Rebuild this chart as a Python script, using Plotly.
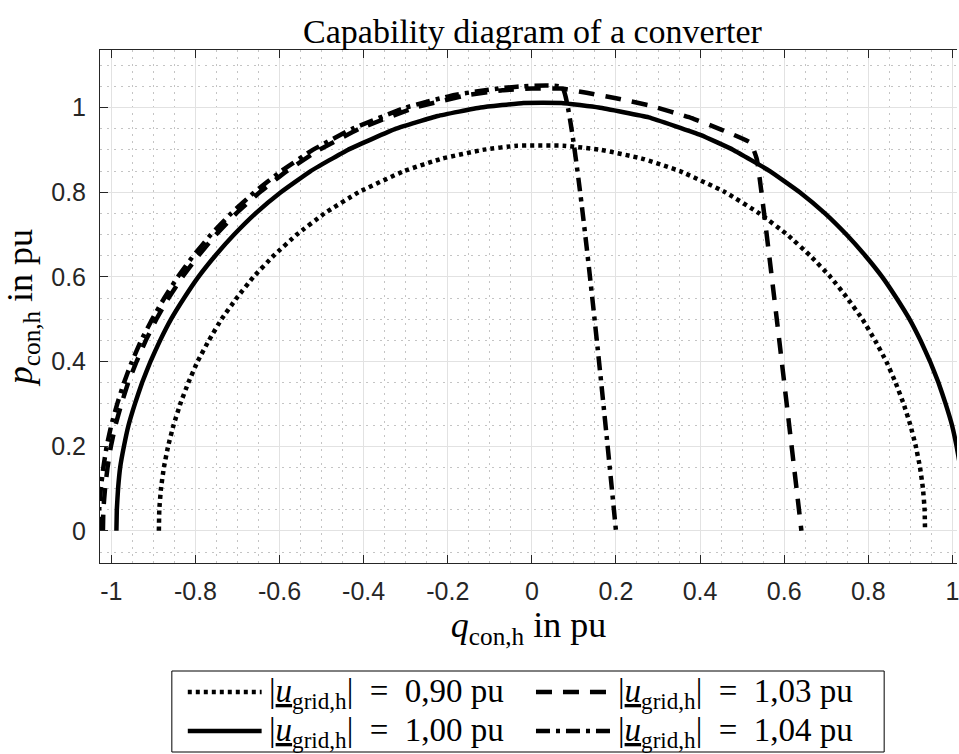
import plotly.graph_objects as go

# ---------------- data ----------------
DOT_Q = [-0.887, -0.886, -0.882, -0.875, -0.865, -0.852, -0.836, -0.817, -0.795, -0.768,
         -0.738, -0.702, -0.662, -0.614, -0.559, -0.493, -0.412, -0.304, -0.212, -0.117,
         -0.035, 0.075, 0.165, 0.260, 0.352, 0.460, 0.541, 0.607, 0.662, 0.710, 0.750,
         0.786, 0.816, 0.843, 0.865, 0.884, 0.900, 0.913, 0.923, 0.930, 0.934, 0.935]
DOT_P = [0.0, 0.05, 0.10, 0.15, 0.20, 0.25, 0.30, 0.35, 0.40, 0.45,
         0.50, 0.55, 0.60, 0.65, 0.70, 0.75, 0.80, 0.85, 0.88, 0.90,
         0.91, 0.91, 0.90, 0.88, 0.85, 0.80, 0.75, 0.70, 0.65, 0.60, 0.55,
         0.50, 0.45, 0.40, 0.35, 0.30, 0.25, 0.20, 0.15, 0.10, 0.05, 0.0]

SOLID_Q = [-0.988, -0.987, -0.984, -0.979, -0.970, -0.959, -0.944, -0.927, -0.907, -0.884,
           -0.858, -0.827, -0.793, -0.753, -0.708, -0.657, -0.597, -0.526, -0.438, -0.323,
           -0.224, -0.122, -0.02, 0.07, 0.159, 0.278, 0.402, 0.479, 0.566, 0.637, 0.697,
           0.748, 0.793, 0.833, 0.867, 0.898, 0.924, 0.947, 0.967, 0.984, 0.999, 1.010,
           1.019, 1.025, 1.030]
SOLID_P = [0.0, 0.05, 0.10, 0.15, 0.20, 0.25, 0.30, 0.35, 0.40, 0.45,
           0.50, 0.55, 0.60, 0.65, 0.70, 0.75, 0.80, 0.85, 0.90, 0.95,
           0.98, 1.0, 1.011, 1.011, 1.0, 0.977, 0.935, 0.90, 0.85, 0.80, 0.75,
           0.70, 0.65, 0.60, 0.55, 0.50, 0.45, 0.40, 0.35, 0.30, 0.25, 0.20,
           0.15, 0.10, 0.0]

DASH_Q = [-1.020, -1.019, -1.015, -1.009, -1.001, -0.990, -0.976, -0.960, -0.940, -0.918,
          -0.893, -0.864, -0.831, -0.793, -0.751, -0.703, -0.647, -0.583, -0.506, -0.410,
          -0.278, -0.151, -0.07, 0.0, 0.07, 0.13, 0.20, 0.28, 0.38, 0.45, 0.52, 0.535, 0.641]
DASH_P = [0.0, 0.05, 0.10, 0.15, 0.20, 0.25, 0.30, 0.35, 0.40, 0.45,
          0.50, 0.55, 0.60, 0.65, 0.70, 0.75, 0.80, 0.85, 0.90, 0.95,
          1.0, 1.03, 1.041, 1.045, 1.045, 1.035, 1.022, 1.005, 0.975, 0.948, 0.917, 0.878, 0.0]

DASHDOT_Q = [-1.030, -1.029, -1.025, -1.019, -1.011, -1.000, -0.986, -0.970, -0.951, -0.929,
             -0.903, -0.874, -0.842, -0.805, -0.763, -0.715, -0.660, -0.596, -0.521, -0.427,
             -0.300, -0.184, -0.08, -0.03, 0.072, 0.2]
DASHDOT_P = [0.0, 0.05, 0.10, 0.15, 0.20, 0.25, 0.30, 0.35, 0.40, 0.45,
             0.50, 0.55, 0.60, 0.65, 0.70, 0.75, 0.80, 0.85, 0.90, 0.95,
             1.0, 1.03, 1.045, 1.05, 1.048, 0.0]

VOLTAGES = ["0,90", "1,00", "1,03", "1,04"]
X_TICKS = [-1, -0.8, -0.6, -0.4, -0.2, 0, 0.2, 0.4, 0.6, 0.8, 1]
X_TICKTEXT = ["-1", "-0.8", "-0.6", "-0.4", "-0.2", "0", "0.2", "0.4", "0.6", "0.8", "1"]
Y_TICKS = [0, 0.2, 0.4, 0.6, 0.8, 1]
Y_TICKTEXT = ["0", "0.2", "0.4", "0.6", "0.8", "1"]

# ---------------- styles ----------------
DASHES = ["4px,4px", "solid", "16px,11px", "14px,6px,4px,6px"]
LW = 4.5
SERIF = "Liberation Serif"
SANS = "Liberation Sans"
AX = "#262626"


def label(v):
    return ("|<i><u>u</u></i><sub>grid,h</sub>|&nbsp;&nbsp;=&nbsp;&nbsp;" + v + "&nbsp;pu")


fig = go.Figure()
series = [(DOT_Q, DOT_P), (SOLID_Q, SOLID_P), (DASH_Q, DASH_P), (DASHDOT_Q, DASHDOT_P)]
for (q, p), v, d in zip(series, VOLTAGES, DASHES):
    fig.add_trace(go.Scatter(x=q, y=p, mode="lines", name="|u_grid,h| = " + v + " pu",
                             line=dict(color="black", width=LW, dash=d, shape="spline",
                                       smoothing=0.3),
                             showlegend=False, hoverinfo="x+y+name"))

# ---------------- layout ----------------
W, H = 959, 754
L, R, T, B = 100, 0, 50, 191
pw, ph = W - L - R, H - T - B


def px(x):
    return (x - L) / pw


def py(y):
    return (H - B - y) / ph


fig.update_layout(
    width=W, height=H,
    margin=dict(l=L, r=R, t=T, b=B),
    paper_bgcolor="white", plot_bgcolor="white",
    showlegend=False,
    title=dict(text="Capability diagram of a converter",
               font=dict(family=SERIF, size=34, color="black"),
               x=532.5 / W, xref="container", xanchor="center",
               y=1 - 31 / H, yref="container", yanchor="middle"),
    xaxis=dict(range=[-1.027, 1.011], tickvals=X_TICKS, ticktext=X_TICKTEXT,
               ticks="inside", ticklen=8, tickcolor=AX, tickwidth=1,
               showline=True, linecolor=AX, linewidth=1, mirror="ticks",
               showgrid=True, gridcolor="#e2e2e2", gridwidth=1, zeroline=False,
               minor=dict(dtick=0.05, tick0=0, showgrid=True, gridcolor="#c4c4c4",
                          griddash="2px,5px", gridwidth=1, ticks=""),
               tickfont=dict(family=SANS, size=25, color=AX),
               ticklabelstandoff=6, ticklabeloverflow="allow",
               title=dict(text="<i>q</i><sub>con,h</sub> in pu",
                          font=dict(family=SERIF, size=36, color="black"), standoff=6)),
    yaxis=dict(range=[-0.076, 1.136], tickvals=Y_TICKS, ticktext=Y_TICKTEXT,
               ticks="inside", ticklen=8, tickcolor=AX, tickwidth=1,
               showline=True, linecolor=AX, linewidth=1, mirror=False,
               showgrid=True, gridcolor="#e2e2e2", gridwidth=1, zeroline=False,
               minor=dict(dtick=0.05, tick0=0, showgrid=True, gridcolor="#c4c4c4",
                          griddash="2px,5px", gridwidth=1, ticks=""),
               tickfont=dict(family=SANS, size=25, color=AX),
               ticklabelstandoff=8,
               title=dict(text="<i>p</i><sub>con,h</sub> in pu",
                          font=dict(family=SERIF, size=36, color="black"), standoff=8)),
)

# ---------------- manual legend (long line samples like the original) ----------------
shapes = [dict(type="rect", xref="paper", yref="paper",
               x0=px(172), x1=px(886), y0=py(752), y1=py(671),
               line=dict(color="black", width=1), fillcolor="white", layer="above")]
ann = []
cols = [(188, 262, 267), (537, 615, 617)]
rows = [692, 731]
for i, (v, d) in enumerate(zip(VOLTAGES, DASHES)):
    c = cols[i // 2]
    r = rows[i % 2]
    shapes.append(dict(type="line", xref="paper", yref="paper",
                       x0=px(c[0]), x1=px(c[1]), y0=py(r), y1=py(r),
                       line=dict(color="black", width=LW, dash=d), layer="above"))
    ann.append(dict(text=label(v), xref="paper", yref="paper", x=px(c[2]), y=py(r + 1),
                    xanchor="left", yanchor="middle", showarrow=False,
                    font=dict(family=SERIF, size=33, color="black")))
fig.update_layout(shapes=shapes, annotations=ann)

fig.write_html("out.html")
